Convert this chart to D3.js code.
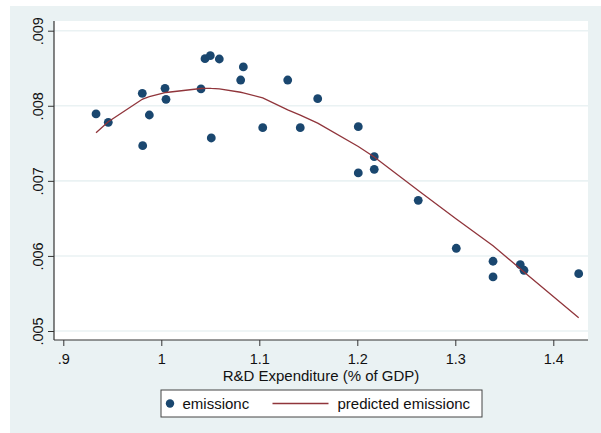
<!DOCTYPE html>
<html>
<head>
<meta charset="utf-8">
<script src="https://cdn.jsdelivr.net/npm/d3@7"></script>
<style>
  body { margin: 0; background: #fff; }
  svg { display: block; font-family: "Liberation Sans", Arial, sans-serif; }
</style>
</head>
<body>
<div id="chart"></div>
<script>
// R&D expenditure (% of GDP), sorted
var rdExp = [0.9334, 0.9459, 0.9806, 0.9810, 0.9878, 1.0038, 1.0048, 1.0405, 1.0446, 1.0500,
             1.0510, 1.0592, 1.0810, 1.0837, 1.1035, 1.1290, 1.1418, 1.1596, 1.2010, 1.2010,
             1.2173, 1.2173, 1.2622, 1.3010, 1.3385, 1.3385, 1.3663, 1.3701, 1.4259];
// observed emissionc
var emission = [0.007891, 0.007780, 0.008166, 0.007468, 0.007877, 0.008233, 0.008086, 0.008224, 0.008627, 0.008667,
                0.007571, 0.008623, 0.008343, 0.008517, 0.007708, 0.008343, 0.007708, 0.008094, 0.007721, 0.007105,
                0.007322, 0.007154, 0.006741, 0.006102, 0.005929, 0.005720, 0.005883, 0.005809, 0.005763];
// predicted emissionc
var predicted = [0.007642, 0.007788, 0.008086, 0.008089, 0.008121, 0.008174, 0.008177, 0.008230, 0.008233, 0.008233,
                 0.008231, 0.008224, 0.008180, 0.008173, 0.008104, 0.007945, 0.007876, 0.007768, 0.007458, 0.007458,
                 0.007318, 0.007318, 0.006872, 0.006492, 0.006135, 0.006135, 0.005829, 0.005787, 0.005175];

var xTicks = [0.9, 1.0, 1.1, 1.2, 1.3, 1.4];
var xTickLabels = [".9", "1", "1.1", "1.2", "1.3", "1.4"];
var yTicks = [0.005, 0.006, 0.007, 0.008, 0.009];
var yTickLabels = [".005", ".006", ".007", ".008", ".009"];

var seriesNames = ["emissionc", "predicted emissionc"];

var w = 601, h = 433;
var bg = "#eaf2f3", navy = "#1a476f", maroon = "#90353b";

// plot region
var plotL = 54, plotR = 588, plotT = 21, plotB = 340;

var xScale = d3.scaleLinear().domain([0.9, 1.4]).range([63.3, 553.3]);
var yScale = d3.scaleLinear().domain([0.005, 0.009]).range([331, 30.7]);

var svg = d3.select("#chart").append("svg")
    .attr("width", w)
    .attr("height", h);

// graph region
svg.append("rect").attr("x", 10).attr("y", 6).attr("width", w - 10).attr("height", h - 6).attr("fill", bg);
svg.append("rect").attr("x", plotL).attr("y", plotT).attr("width", plotR - plotL).attr("height", plotB - plotT).attr("fill", "#fff");

// grid
svg.append("g").selectAll("line")
    .data(yTicks)
    .enter().append("line")
    .attr("x1", plotL).attr("x2", plotR)
    .attr("y1", function(d) { return yScale(d); })
    .attr("y2", function(d) { return yScale(d); })
    .attr("stroke", bg)
    .attr("stroke-width", 1.6);

// axes
var xAxis = d3.axisBottom(xScale).tickValues(xTicks).tickSize(6)
    .tickFormat(function(d, i) { return xTickLabels[i]; });
var yAxis = d3.axisLeft(yScale).tickValues(yTicks).tickSize(6)
    .tickFormat(function(d, i) { return yTickLabels[i]; });

var gx = svg.append("g").attr("transform", "translate(0," + plotB + ")").call(xAxis);
var gy = svg.append("g").attr("transform", "translate(" + plotL + ",0)").call(yAxis);

[gx, gy].forEach(function(g) {
    g.select(".domain").remove();
    g.selectAll(".tick line").attr("stroke", "#333");
    g.selectAll("text").attr("font-size", 14.5).attr("fill", "#111").attr("font-family", null);
});
gx.selectAll(".tick text").attr("dy", null).attr("y", 24);
gy.selectAll(".tick text")
    .attr("x", null).attr("dy", null)
    .attr("text-anchor", "middle")
    .attr("transform", "translate(-11.5,0) rotate(-90)");

svg.append("line").attr("x1", plotL).attr("x2", plotR).attr("y1", plotB).attr("y2", plotB)
    .attr("stroke", "#333").attr("stroke-width", 1.2);
svg.append("line").attr("x1", plotL).attr("x2", plotL).attr("y1", plotT).attr("y2", plotB)
    .attr("stroke", "#333").attr("stroke-width", 1.2);

// axis title
svg.append("text")
    .attr("x", (plotL + plotR) / 2)
    .attr("y", 381)
    .attr("text-anchor", "middle")
    .attr("font-size", 15)
    .attr("fill", "#111")
    .text("R&D Expenditure (% of GDP)");

// scatter
svg.append("g").selectAll("circle")
    .data(rdExp)
    .enter().append("circle")
    .attr("cx", function(d) { return xScale(d); })
    .attr("cy", function(d, i) { return yScale(emission[i]); })
    .attr("r", 4.4)
    .attr("fill", navy);

// fitted line
var line = d3.line()
    .x(function(d) { return xScale(d); })
    .y(function(d, i) { return yScale(predicted[i]); });

svg.append("path")
    .datum(rdExp)
    .attr("d", line)
    .attr("fill", "none")
    .attr("stroke", maroon)
    .attr("stroke-width", 1.3);

// legend
var lg = svg.append("g");
lg.append("rect").attr("x", 161).attr("y", 390).attr("width", 321).attr("height", 27)
    .attr("fill", "#fff").attr("stroke", "#444").attr("stroke-width", 1);
lg.append("circle").attr("cx", 170).attr("cy", 403.5).attr("r", 4.2).attr("fill", navy);
lg.append("text").attr("x", 182.5).attr("y", 408.5).attr("font-size", 15).attr("fill", "#111").text(seriesNames[0]);
lg.append("line").attr("x1", 272.5).attr("x2", 328.5).attr("y1", 403.5).attr("y2", 403.5)
    .attr("stroke", maroon).attr("stroke-width", 1.3);
lg.append("text").attr("x", 337.5).attr("y", 408.5).attr("font-size", 15).attr("fill", "#111").text(seriesNames[1]);
</script>
</body>
</html>
